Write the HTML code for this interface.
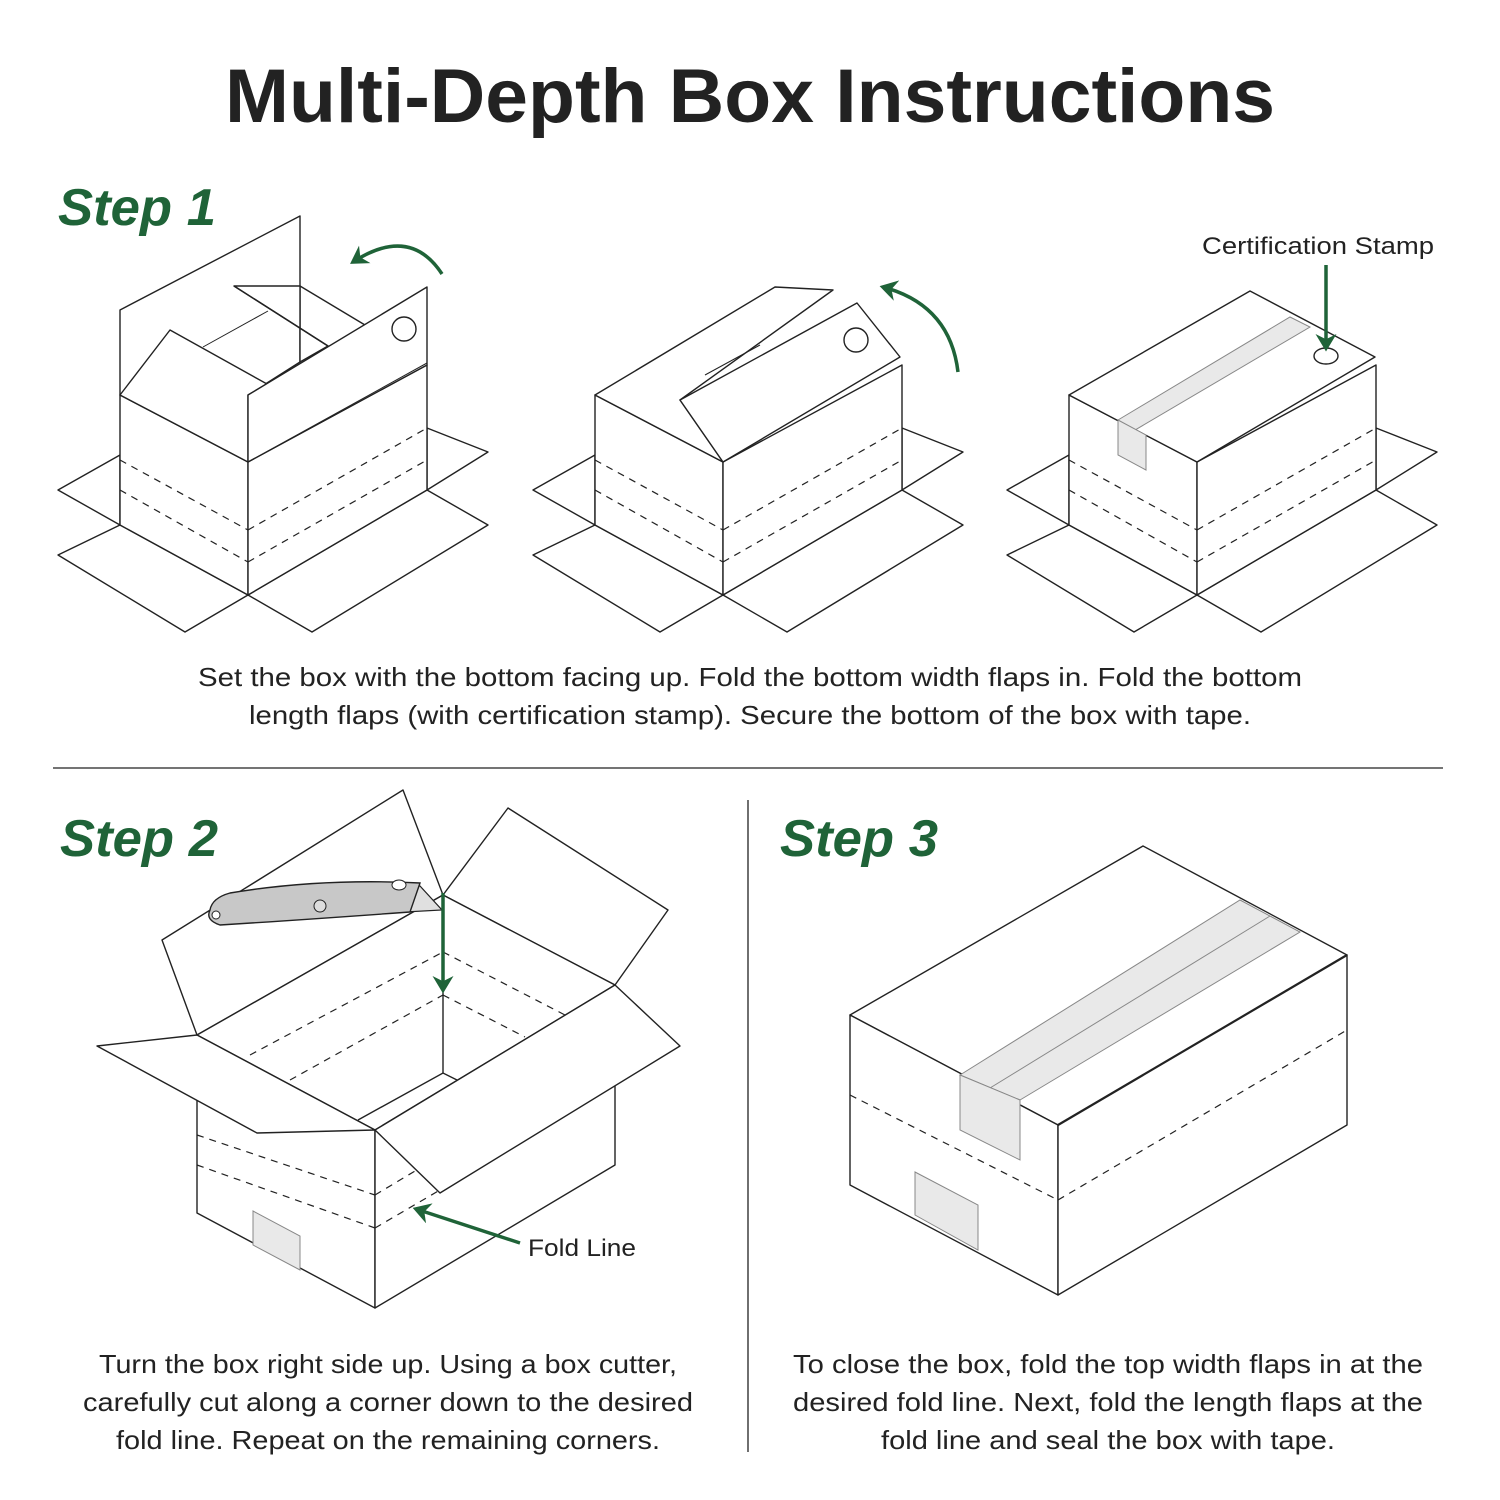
<!DOCTYPE html>
<html><head><meta charset="utf-8"><style>
html,body{margin:0;padding:0;background:#fff;}
svg{display:block}
text{font-family:"Liberation Sans",sans-serif;fill:#222}
.g{fill:#1f6338;font-weight:bold;font-style:italic}
.l{fill:#fff;stroke:#222;stroke-width:1.4;stroke-linejoin:round}
.d{fill:none;stroke:#222;stroke-width:1.2;stroke-dasharray:7 6}
.t{fill:#e9e9e9;stroke:#888;stroke-width:1}
.ar{fill:none;stroke:#1f6338;stroke-width:3.5}
</style></head><body>
<svg width="1500" height="1500" viewBox="0 0 1500 1500" xmlns="http://www.w3.org/2000/svg">
<defs><marker id="ah" markerWidth="6" markerHeight="6" refX="4" refY="3" orient="auto" markerUnits="strokeWidth"><path d="M0,0 L5,3 L0,6 L1.5,3 z" fill="#1f6338"/></marker></defs>
<text x="750" y="122" text-anchor="middle" font-size="76" font-weight="bold" fill="#111" textLength="1050" lengthAdjust="spacingAndGlyphs">Multi-Depth Box Instructions</text>
<text class="g" x="58" y="225" font-size="52" textLength="158" lengthAdjust="spacingAndGlyphs">Step 1</text>
<text class="g" x="60" y="856" font-size="52" textLength="158" lengthAdjust="spacingAndGlyphs">Step 2</text>
<text class="g" x="780" y="856" font-size="52" textLength="158" lengthAdjust="spacingAndGlyphs">Step 3</text>

<g id="b1">
<polygon class="l" points="120,455 58,490 120,525"/>
<polygon class="l" points="120,525 58,555 185,632 248,595"/>
<polygon class="l" points="248,595 312,632 488,525 427,490"/>
<polygon class="l" points="427,428 488,452 427,490"/>
<polygon class="l" points="120,395 248,462 248,595 120,525"/>
<polygon class="l" points="248,462 427,365 427,490 248,595"/>
<line class="d" x1="120" y1="460" x2="248" y2="530"/><line class="d" x1="120" y1="490" x2="248" y2="562"/>
<line class="d" x1="248" y1="530" x2="427" y2="428"/><line class="d" x1="248" y1="562" x2="427" y2="460"/>
</g>
<polygon class="l" points="120,395 120,310 300,216 300,362 248,395"/>
<polyline fill="none" stroke="#222" stroke-width="1" points="203,347 268,311"/>
<polyline fill="none" stroke="#222" stroke-width="1.4" points="300,286 365,325"/>
<polygon class="l" points="234,286 300,286 300,362 328,346"/>
<polyline fill="none" stroke="#222" stroke-width="1.4" points="234,286 328,346"/>
<polygon class="l" points="120,395 170,330 267,384 248,395 248,462"/>
<polygon class="l" points="248,462 248,395 427,287 427,365"/>
<line x1="248" y1="462" x2="427" y2="363" stroke="#222" stroke-width="1"/>
<circle cx="404" cy="329" r="12" fill="none" stroke="#222" stroke-width="1.4"/>
<path class="ar" d="M442,274 Q410,225 353,262" marker-end="url(#ah)"/>

<use href="#b1" x="475"/>
<polygon class="l" points="595,395 775,287 833,290 680,400 723,462"/>
<line x1="705" y1="375" x2="760" y2="345" stroke="#222" stroke-width="1"/>
<polygon class="l" points="680,400 857,303 900,357 723,462"/>
<circle cx="856" cy="340" r="12" fill="none" stroke="#222" stroke-width="1.4"/>
<path class="ar" d="M958,372 Q950,305 883,287" marker-end="url(#ah)"/>

<use href="#b1" x="949"/>
<polygon class="l" points="1069,395 1250,291 1375,357 1197,462"/>
<polygon class="t" points="1118,420 1290,317 1310,327 1130,433"/>
<polygon class="t" points="1118,420 1146,435 1146,470 1118,455"/>
<ellipse cx="1326" cy="356" rx="12" ry="8" fill="none" stroke="#222" stroke-width="1.4"/>
<line class="ar" x1="1326" y1="265" x2="1326" y2="348" marker-end="url(#ah)"/>
<text x="1318" y="254" text-anchor="middle" font-size="24" textLength="232" lengthAdjust="spacingAndGlyphs">Certification Stamp</text>

<text x="750" y="686" text-anchor="middle" font-size="26" textLength="1104" lengthAdjust="spacingAndGlyphs">Set the box with the bottom facing up. Fold the bottom width flaps in. Fold the bottom</text>
<text x="750" y="724" text-anchor="middle" font-size="26" textLength="1002" lengthAdjust="spacingAndGlyphs">length flaps (with certification stamp). Secure the bottom of the box with tape.</text>
<line x1="53" y1="768" x2="1443" y2="768" stroke="#222" stroke-width="1.3"/>
<line x1="748" y1="800" x2="748" y2="1452" stroke="#222" stroke-width="1.3"/>

<!-- Step 2 box -->
<polygon class="l" points="197,1035 162,940 403,790 443,895"/>
<polygon class="l" points="443,895 508,808 668,910 615,985"/>
<polygon class="l" points="197,1035 443,895 615,985 375,1130"/>
<line x1="443" y1="895" x2="443" y2="1073" stroke="#222" stroke-width="1.4"/>
<polyline fill="none" stroke="#222" stroke-width="1.4" points="358,1120 443,1073 457,1080"/>
<line class="d" x1="250" y1="1055" x2="443" y2="952"/><line class="d" x1="290" y1="1080" x2="443" y2="995"/>
<line class="d" x1="443" y1="952" x2="565" y2="1015"/><line class="d" x1="443" y1="995" x2="525" y2="1037"/>
<polygon class="l" points="197,1100 375,1130 375,1308 197,1213"/>
<polygon class="l" points="375,1130 615,1085 615,1165 375,1308"/>
<polygon class="t" points="253,1211 300,1236 300,1270 253,1245"/>
<line class="d" x1="197" y1="1135" x2="375" y2="1195"/><line class="d" x1="197" y1="1165" x2="375" y2="1228"/>
<line class="d" x1="375" y1="1195" x2="450" y2="1150"/><line class="d" x1="375" y1="1228" x2="440" y2="1190"/>
<polygon class="l" points="197,1035 97,1046 257,1133 375,1130"/>
<polygon class="l" points="375,1130 440,1193 680,1046 615,985"/>
<polygon points="410,886 420,886 442,910 405,912" fill="#e0e0e0" stroke="#222" stroke-width="1.2"/>
<path d="M230,893 Q320,878 420,883 L410,912 Q300,920 220,925 Q205,920 210,910 Q212,898 230,893 z" fill="#c8c8c8" stroke="#222" stroke-width="1.4"/>
<circle cx="320" cy="906" r="6" fill="#ddd" stroke="#222"/><circle cx="216" cy="915" r="4" fill="#fff" stroke="#222"/><ellipse cx="399" cy="885" rx="7" ry="5" fill="#fff" stroke="#222"/>
<line class="ar" x1="443" y1="893" x2="443" y2="990" marker-end="url(#ah)"/>
<line class="ar" x1="520" y1="1243" x2="416" y2="1209" marker-end="url(#ah)"/>
<text x="528" y="1256" font-size="24" textLength="108" lengthAdjust="spacingAndGlyphs">Fold Line</text>

<!-- Step 3 box -->
<polygon class="l" points="850,1015 1143,846 1347,955 1058,1125"/>
<polygon class="l" points="850,1015 1058,1125 1058,1295 850,1185"/>
<polygon class="l" points="1058,1125 1347,955 1347,1125 1058,1295"/>
<polygon class="t" points="960,1075 1240,900 1300,932 1020,1100"/>
<line x1="990" y1="1088" x2="1270" y2="916" stroke="#888"/>
<polygon class="t" points="960,1075 1020,1100 1020,1160 960,1130"/>
<polygon class="t" points="915,1172 978,1205 978,1250 915,1215"/>
<line x1="1058" y1="1125" x2="1347" y2="955" stroke="#222" stroke-width="2.2"/>
<line class="d" x1="850" y1="1095" x2="1058" y2="1200"/>
<line class="d" x1="1058" y1="1200" x2="1347" y2="1030"/>

<text x="388" y="1373" text-anchor="middle" font-size="26" textLength="578" lengthAdjust="spacingAndGlyphs">Turn the box right side up. Using a box cutter,</text>
<text x="388" y="1411" text-anchor="middle" font-size="26" textLength="610" lengthAdjust="spacingAndGlyphs">carefully cut along a corner down to the desired</text>
<text x="388" y="1449" text-anchor="middle" font-size="26" textLength="544" lengthAdjust="spacingAndGlyphs">fold line. Repeat on the remaining corners.</text>
<text x="1108" y="1373" text-anchor="middle" font-size="26" textLength="630" lengthAdjust="spacingAndGlyphs">To close the box, fold the top width flaps in at the</text>
<text x="1108" y="1411" text-anchor="middle" font-size="26" textLength="630" lengthAdjust="spacingAndGlyphs">desired fold line. Next, fold the length flaps at the</text>
<text x="1108" y="1449" text-anchor="middle" font-size="26" textLength="454" lengthAdjust="spacingAndGlyphs">fold line and seal the box with tape.</text>
</svg>
</body></html>
